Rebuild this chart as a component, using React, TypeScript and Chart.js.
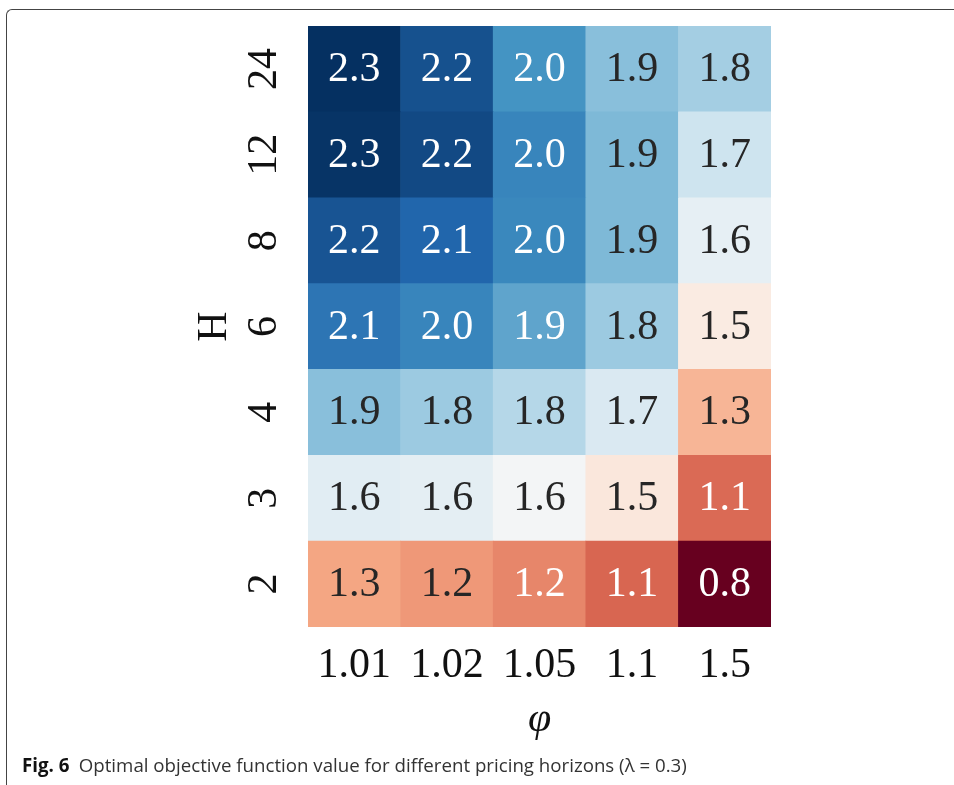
import React, { useEffect, useRef } from "react";
import { Chart, registerables } from "chart.js";
Chart.register(...registerables);

// x categories (phi) and y categories (H), bottom to top
const phiLabels = ["1.01", "1.02", "1.05", "1.1", "1.5"];
const hLabels = ["2", "3", "4", "6", "8", "12", "24"];

// objective values per H row (columns follow phiLabels)
const rowH2 = [1.25, 1.22, 1.18, 1.11, 0.8];
const rowH3 = [1.63, 1.62, 1.56, 1.46, 1.12];
const rowH4 = [1.86, 1.82, 1.76, 1.66, 1.29];
const rowH6 = [2.09, 2.04, 1.94, 1.82, 1.48];
const rowH8 = [2.19, 2.14, 2.03, 1.88, 1.61];
const rowH12 = [2.28, 2.22, 2.04, 1.88, 1.7];
const rowH24 = [2.29, 2.2, 1.99, 1.86, 1.8];
const values = [rowH2, rowH3, rowH4, rowH6, rowH8, rowH12, rowH24];

const SERIF = '"Liberation Serif", "Times New Roman", serif';

const RDBU: number[][] = [
  [103, 0, 31], [178, 24, 43], [214, 96, 77], [244, 165, 130], [253, 219, 199],
  [247, 247, 247], [209, 229, 240], [146, 197, 222], [67, 147, 195], [33, 102, 172], [5, 48, 97],
];

const flat = values.flat();
const vmin = Math.min(...flat);
const vmax = Math.max(...flat);

function cmap(v: number): number[] {
  const t = Math.min(1, Math.max(0, (v - vmin) / (vmax - vmin))) * 10;
  const i = Math.min(9, Math.floor(t));
  const f = t - i;
  const a = RDBU[i], b = RDBU[i + 1];
  return a.map((x, k) => Math.round(x + (b[k] - x) * f));
}
function rgb(c: number[]) {
  return `rgb(${c[0]},${c[1]},${c[2]})`;
}
function lum(c: number[]) {
  const l = c.map((x) => {
    const s = x / 255;
    return s <= 0.03928 ? s / 12.92 : Math.pow((s + 0.055) / 1.055, 2.4);
  });
  return 0.2126 * l[0] + 0.7152 * l[1] + 0.0722 * l[2];
}

const annotPlugin = {
  id: "annot",
  afterDatasetsDraw(chart: any) {
    const ctx = chart.ctx;
    ctx.save();
    ctx.font = `42px ${SERIF}`;
    ctx.textAlign = "center";
    ctx.textBaseline = "alphabetic";
    chart.data.datasets.forEach((_ds: any, r: number) => {
      const meta = chart.getDatasetMeta(r);
      meta.data.forEach((el: any, c: number) => {
        const v = values[r][c];
        const { x, y, base } = el.getProps(["x", "y", "base"], true);
        ctx.fillStyle = lum(cmap(v)) < 0.408 ? "#ffffff" : "#262626";
        ctx.fillText(v.toFixed(1), x, (y + base) / 2 + 12);
      });
    });
    ctx.restore();
  },
};

export default function App() {
  const ref = useRef<HTMLCanvasElement>(null);
  useEffect(() => {
    if (!ref.current) return;
    const chart = new Chart(ref.current, {
      type: "bar",
      data: {
        labels: phiLabels,
        datasets: values.map((row, r) => ({
          label: hLabels[r],
          data: row.map(() => [r, r + 1]) as any,
          backgroundColor: row.map((v) => rgb(cmap(v))),
          borderWidth: 0,
          barPercentage: 1,
          categoryPercentage: 1,
          grouped: false,
        })),
      },
      options: {
        animation: false,
        responsive: false,
        events: [],
        layout: { padding: { left: 190, top: 26, right: 183, bottom: 40 } },
        plugins: { legend: { display: false }, tooltip: { enabled: false } },
        scales: {
          x: {
            type: "category",
            grid: { display: false, drawTicks: false },
            border: { display: false },
            ticks: { font: { family: SERIF, size: 42 }, color: "#111", padding: 14 },
            title: {
              display: true,
              text: "φ",
              font: { family: SERIF, size: 42, style: "italic" },
              color: "#111",
              padding: 0,
            },
            afterFit(s: any) {
              s.height = 118;
              s.paddingLeft = 0;
              s.paddingRight = 0;
            },
          },
          y: {
            type: "linear",
            min: 0,
            max: 7,
            grid: { display: false, drawTicks: false },
            border: { display: false },
            afterBuildTicks(s: any) {
              s.ticks = hLabels.map((_, i) => ({ value: i + 0.5 }));
            },
            ticks: {
              font: { family: SERIF, size: 42 },
              color: "#111",
              minRotation: 90,
              maxRotation: 90,
              crossAlign: "center",
              padding: 22,
              callback: (_v: any, i: number) => hLabels[i],
            },
            title: {
              display: true,
              text: "H",
              font: { family: SERIF, size: 42 },
              color: "#111",
              padding: 0,
            },
            afterFit(s: any) {
              s.width = 118;
              s.paddingTop = 0;
              s.paddingBottom = 0;
            },
          },
        },
      },
      plugins: [annotPlugin],
    });
    return () => chart.destroy();
  }, []);

  return (
    <div style={{ position: "fixed", left: 0, top: 0, width: 954, height: 785, background: "#fff", overflow: "hidden" }}>
      <div
        style={{
          position: "absolute",
          left: 6,
          top: 9,
          width: 1000,
          height: 900,
          borderTop: "1.5px solid #444",
          borderLeft: "1.5px solid #444",
          borderTopLeftRadius: 6,
        }}
      />
      <canvas ref={ref} width={954} height={785} style={{ position: "absolute", left: 0, top: 0 }} />
      <div
        style={{
          position: "absolute",
          left: 22,
          top: 752,
          fontFamily: '"Open Sans", sans-serif',
          fontSize: 18.7,
          lineHeight: "26px",
          color: "#333",
          whiteSpace: "nowrap",
        }}
      >
        <b style={{ color: "#111" }}>Fig. 6</b>
        {"\u2002Optimal objective function value for different pricing horizons (λ = 0.3)"}
      </div>
    </div>
  );
}
